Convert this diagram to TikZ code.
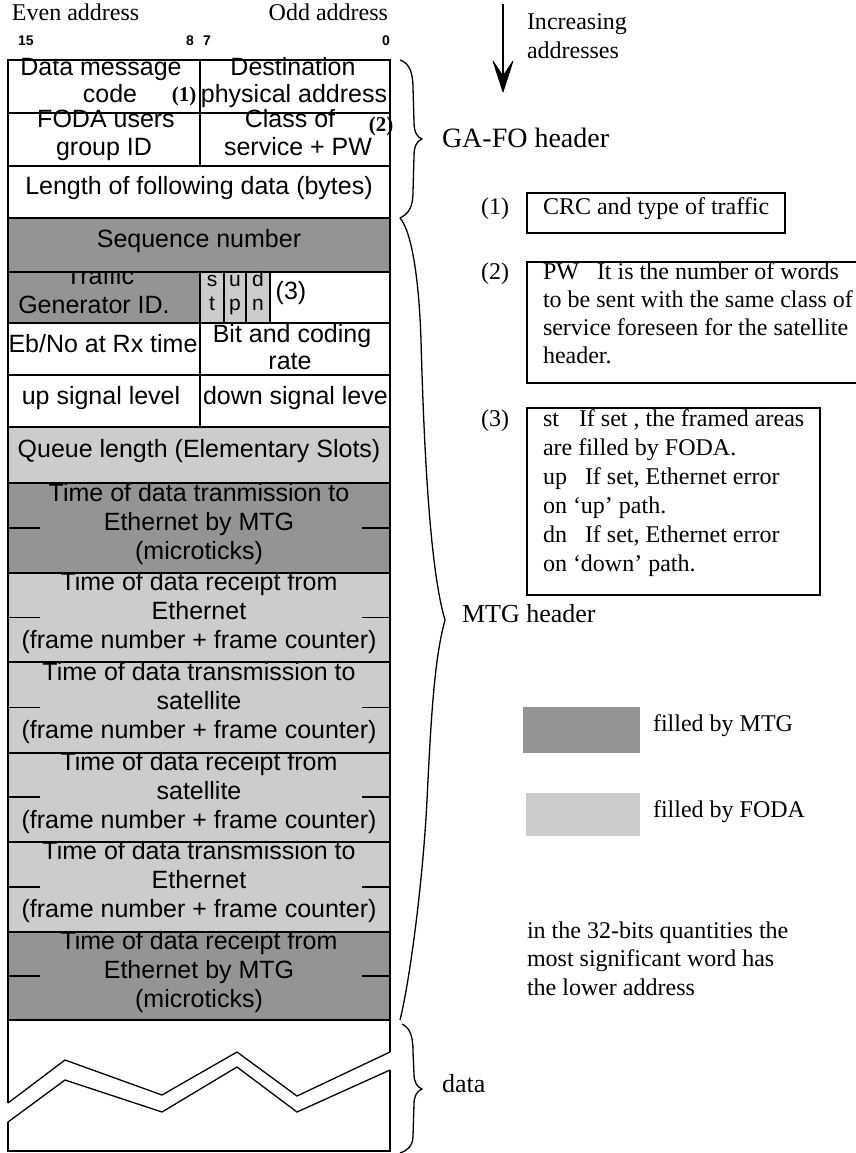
\documentclass[tikz,border=0pt]{standalone}
\usepackage{fontspec}
\setmainfont{Liberation Serif}
\setsansfont{Liberation Sans}
\begin{document}
\begin{tikzpicture}[x=1pt,y=-1pt,
  every node/.style={inner sep=0pt, outer sep=0pt},
  grid/.style={line width=1.3pt},
  frame/.style={line width=2.8pt},
  brace/.style={line width=1.3pt, line join=round},
  mtgfill/.style={fill=black!42},
  fodafill/.style={fill=black!20},
  cell/.style={font=\sffamily\fontsize{25}{29}\selectfont, anchor=mid},
  smallcell/.style={font=\sffamily\fontsize{21}{24}\selectfont, anchor=mid},
  bitno/.style={font=\sffamily\bfseries\fontsize{14}{14}\selectfont, anchor=mid},
  serif/.style={font=\rmfamily\fontsize{24}{29}\selectfont, anchor=mid west},
  refmark/.style={font=\rmfamily\bfseries\fontsize{21}{24}\selectfont, anchor=mid},
  notemark/.style={font=\rmfamily\fontsize{24}{26}\selectfont, anchor=mid},
  big/.style={font=\rmfamily\fontsize{28}{30}\selectfont, anchor=mid west},
  bigger/.style={font=\rmfamily\fontsize{26}{28}\selectfont, anchor=mid west},
  notebox/.style={line width=1.4pt}
]
\useasboundingbox (0,0) rectangle (856,1153);

% ---------- shaded fields ----------
\fill[mtgfill]  (8,218) rectangle (390,272);
\fill[mtgfill]  (8,272) rectangle (200,323);
\fill[fodafill] (200,272) rectangle (270,323);
\fill[fodafill] (8,427) rectangle (390,483);
\fill[mtgfill]  (8,483) rectangle (390,573);
\fill[fodafill] (8,573) rectangle (390,932);
\fill[mtgfill]  (8,932) rectangle (390,1020);

% ---------- column headings ----------
\node[serif] (even) at (12,18) {Even address};
\node[serif, anchor=mid east] (odd) at (388,18) {Odd address};
\node[bitno] (b15) at (26,43) {15};
\node[bitno] (b8) at (190,43) {8};
\node[bitno] (b7) at (207,43) {7};
\node[bitno] (b0) at (386,43) {0};

% ---------- GA-FO header fields ----------
\node[cell] (dmc1) at (101,73) {Data message};
\node[cell] (dmc2) at (110,100) {code};
\node[refmark] (m1) at (184,99) {(1)};
\node[cell] (dst1) at (293,73) {Destination};
\node[cell] (dst2) at (294,100) {physical address};
\node[cell] (grp1) at (106,125) {FODA users};
\node[cell] (grp2) at (104,153) {group ID};
\node[cell] (cos1) at (290,125) {Class of};
\node[refmark] (m2) at (381,129) {(2)};
\node[cell] (cos2) at (298,153) {service + PW};
\node[cell] (len) at (199,192) {Length of following data (bytes)};

% ---------- MTG header fields ----------
\node[cell] (seq) at (199,245) {Sequence number};
\begin{scope}
  \clip (8,272) rectangle (200,323);
  \node[cell] (traffic) at (100,282) {Traffic};
  \node[cell] (genid) at (94,311) {Generator ID.};
\end{scope}
\node[smallcell] (fs) at (212,284) {s};
\node[smallcell] (ft) at (212,308) {t};
\node[smallcell] (fu) at (235,284) {u};
\node[smallcell] (fp) at (235,308) {p};
\node[smallcell] (fd) at (258,284) {d};
\node[smallcell] (fn) at (258,308) {n};
\node[cell] (m3) at (291,297) {(3)};

\node[cell] (ebno) at (103,350) {Eb/No at Rx time};
\node[cell] (bit1) at (292,340) {Bit and coding};
\node[cell] (bit2) at (290,367) {rate};
\node[cell] (upl) at (101,402) {up signal level};
\begin{scope}
  \clip (200,375) rectangle (390,427);
  \node[cell, anchor=mid west] (dnl) at (203,402) {down signal level};
\end{scope}

\node[cell] (queue) at (199,455) {Queue length (Elementary Slots)};

\node[cell] (t1a) at (199,499) {Time of data tranmission to};
\node[cell] (t1b) at (199,528) {Ethernet by MTG};
\node[cell] (t1c) at (199,557) {(microticks)};

\node[cell] (t2a) at (199,588) {Time of data receipt from};
\node[cell] (t2b) at (199,617) {Ethernet};
\node[cell] (t2c) at (199,646) {(frame number + frame counter)};

\node[cell] (t3a) at (199,678) {Time of data transmission to};
\node[cell] (t3b) at (199,707) {satellite};
\node[cell] (t3c) at (199,736) {(frame number + frame counter)};

\node[cell] (t4a) at (199,768) {Time of data receipt from};
\node[cell] (t4b) at (199,797) {satellite};
\node[cell] (t4c) at (199,826) {(frame number + frame counter)};

\node[cell] (t5a) at (199,857) {Time of data transmission to};
\node[cell] (t5b) at (199,886) {Ethernet};
\node[cell] (t5c) at (199,915) {(frame number + frame counter)};

\node[cell] (t6a) at (199,947) {Time of data receipt from};
\node[cell] (t6b) at (199,976) {Ethernet by MTG};
\node[cell] (t6c) at (199,1005) {(microticks)};

% ---------- field borders ----------
\draw[grid] (8,60) rectangle (390,1020);
\foreach \y in {113,166,218,272,483,573,662,753,842,932}
  \draw[grid] (8,\y) -- (390,\y);
\draw[grid] (200,60) -- (200,166);
\foreach \x in {200,224,246,270}
  \draw[grid] (\x,272) -- (\x,323);
\draw[grid] (200,323) -- (200,427);
\draw[grid] (8,375) -- (390,375);
\draw[frame] (8,323) rectangle (390,427);

% half-word marks of the 32-bit quantities
\foreach \y in {528,617.5,707.5,797,887,976} {
  \draw[grid] (8,\y) -- (40,\y);
  \draw[grid] (362,\y) -- (390,\y);
}

% ---------- data area with break ----------
\draw[grid] (8,1020) -- (8,1103);
\draw[grid] (8,1122) -- (8,1151) -- (390,1151) -- (390,1070);
\draw[grid] (390,1020) -- (390,1052);
\draw[grid, line join=miter] (8,1103) -- (65,1060) -- (162,1095) -- (237,1052) -- (297,1096) -- (390,1052);
\draw[grid, line join=miter] (8,1122) -- (65,1080) -- (162,1112) -- (237,1067) -- (297,1112) -- (390,1070);

% ---------- braces ----------
\draw[brace] (400,60) .. controls (409,63) and (413,72) .. (413,88) -- (414,122)
  .. controls (414,132) and (417,137) .. (422,139)
  .. controls (417,141) and (414,146) .. (414,156) -- (413,192)
  .. controls (413,208) and (408,214) .. (400,218);
\draw[brace] (400,218) .. controls (412,232) and (419,280) .. (421,340)
  .. controls (424,450) and (430,570) .. (445,620)
  .. controls (434,660) and (431,720) .. (427,800)
  .. controls (423,880) and (410,980) .. (400,1020);
\draw[brace] (402,1024) .. controls (410,1028) and (413,1036) .. (413,1052) -- (414,1074)
  .. controls (414,1082) and (417,1087) .. (422,1089)
  .. controls (417,1091) and (414,1096) .. (414,1104) -- (413,1136)
  .. controls (413,1146) and (407,1151) .. (400,1153);

\node[big] (gafo) at (442,145) {GA-FO header};
\node[bigger] (mtg) at (462,620) {MTG header};
\node[bigger] (data) at (442,1090) {data};

% ---------- address direction ----------
\coordinate (atop) at (503,4);
\coordinate (atip) at (503,92);
\draw[line width=1.3pt] (atop) -- (503,78);
\filldraw[line width=0.8pt, line join=round] (atip) -- (493,61) -- (503,76) -- (513,61) -- cycle;
\node[serif] (inc1) at (527,27) {Increasing};
\node[serif] (inc2) at (527,56) {addresses};

% ---------- notes ----------
\node[notemark] (n1) at (495,212) {(1)};
\draw[notebox] (527,193) rectangle (785,233);
\node[serif] (n1t) at (543,212) {CRC and type of traffic};

\node[notemark] (n2) at (495,277) {(2)};
\draw[notebox] (856,262) -- (527,262) -- (527,383) -- (856,383);
\node[serif] (n2a) at (543,277) {PW\hspace{12pt} It is the number of words};
\node[serif] (n2b) at (543,305) {to be sent with the same class of};
\node[serif] (n2c) at (543,333) {service foreseen for the satellite};
\node[serif] (n2d) at (543,361) {header.};

\node[notemark] (n3) at (495,424) {(3)};
\draw[notebox] (527,408) rectangle (820,595);
\node[serif] (n3a) at (543,424) {st\hspace{14pt} If set , the framed areas};
\node[serif] (n3b) at (543,453) {are filled by FODA.};
\node[serif] (n3c) at (543,482) {up\hspace{12pt} If set, Ethernet error};
\node[serif] (n3d) at (543,511) {on ‘up’ path.};
\node[serif] (n3e) at (543,540) {dn\hspace{12pt} If set, Ethernet error};
\node[serif] (n3f) at (543,569) {on ‘down’ path.};

% ---------- legend ----------
\fill[mtgfill] (523,707) rectangle (640,753);
\node[serif] (lmtg) at (653,729) {filled by MTG};
\fill[fodafill] (526,793) rectangle (640,836);
\node[serif] (lfoda) at (653,815) {filled by FODA};

\node[serif] (w1) at (527,936) {in the 32-bits quantities the};
\node[serif] (w2) at (527,964) {most significant word has};
\node[serif] (w3) at (527,993) {the lower address};
\end{tikzpicture}
\end{document}
